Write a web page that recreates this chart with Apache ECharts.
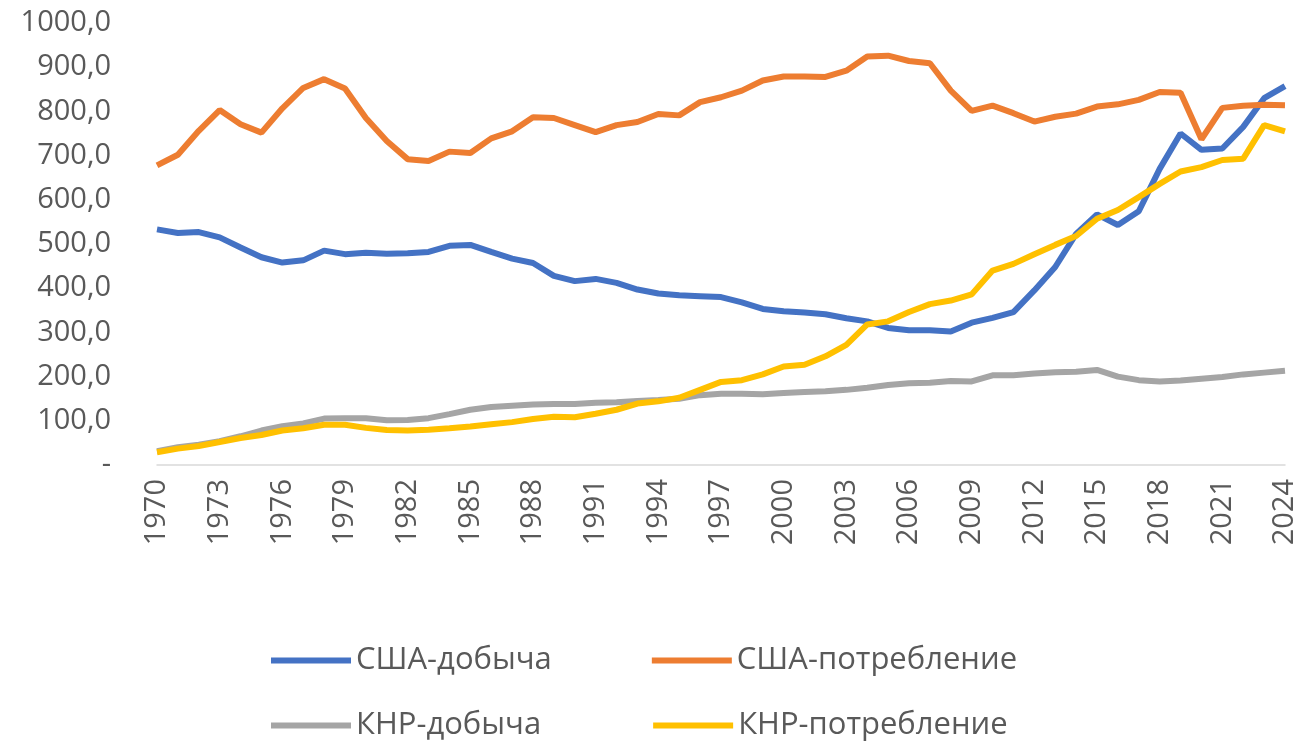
<!DOCTYPE html>
<html><head><meta charset="utf-8">
<script src="https://cdn.jsdelivr.net/npm/echarts@6/dist/echarts.min.js"></script>
<style>html,body{margin:0;background:#fff}#c{width:1310px;height:751px}</style>
</head><body><div id="c"></div>
<script>
const years = [];
for (let y = 1970; y <= 2024; y++) years.push(String(y));

const usProd = [533,525,527,515,492,470,458,463,485,477,480,478,479,482,496,498,482,467,457,428,416,421,412,397,388,384,382,380,368,353,348,345,341,332,325,310,305,305,302,322,333,346,395,448,523,567,543,574,670,750,713,716,765,830,857];
const usCons = [678,702,756,803,771,752,807,853,873,852,785,733,692,688,709,706,739,755,787,785,769,753,769,776,794,791,821,832,847,870,879,879,878,892,924,926,914,909,847,801,813,796,777,788,795,811,816,826,844,842,737,808,813,815,814];
const cnProd = [31,40,46,54,65,78,88,94,105,106,106,101,102,106,115,125,131,134,137,138,138,141,142,145,147,150,158,161,161,160,163,165,167,170,175,181,185,186,190,189,203,203,207,210,211,215,200,192,189,191,195,199,205,209,213];
const cnCons = [29,37,43,52,61,68,78,83,91,91,84,79,78,80,83,87,92,97,104,109,108,116,125,139,144,152,170,188,192,205,223,227,246,272,318,325,346,364,372,386,440,455,477,498,518,557,577,606,636,664,674,690,693,769,755];

const names = ['США-добыча','США-потребление','КНР-добыча','КНР-потребление'];
const colors = ['#4472C4','#ED7D31','#A5A5A5','#FFC000'];
const data = [usProd, usCons, cnProd, cnCons];

const chart = echarts.init(document.getElementById('c'));
const legendBase = {
  icon: 'rect', itemWidth: 80, itemHeight: 6,
  textStyle: {fontSize: 31, color: '#595959', fontFamily: 'Open Sans'}
};
chart.setOption({
  animation: false,
  textStyle: {fontFamily: 'Open Sans'},
  color: colors,
  grid: {left: 157, right: 25, top: 23, bottom: 286},
  legend: [
    Object.assign({}, legendBase, {data: [names[0], names[1]], left: 266, top: 640, itemGap: 100}),
    Object.assign({}, legendBase, {data: [names[2], names[3]], left: 266, top: 705, itemGap: 112})
  ],
  xAxis: {
    type: 'category', data: years, boundaryGap: false,
    axisLine: {lineStyle: {color: '#D9D9D9', width: 1.5}},
    axisTick: {show: false},
    axisLabel: {interval: 2, rotate: 90, fontSize: 29, color: '#595959', margin: 14}
  },
  yAxis: {
    type: 'value', min: 0, max: 1000, interval: 100,
    splitLine: {show: false},
    axisLabel: {fontSize: 29, color: '#595959', margin: 46,
      formatter: v => v === 0 ? '-' : v.toFixed(1).replace('.', ',')}
  },
  series: data.map((d, i) => ({
    name: names[i], type: 'line', data: d, showSymbol: false,
    lineStyle: {width: 6}, z: i === 3 ? 5 : 2
  }))
});
</script></body></html>
